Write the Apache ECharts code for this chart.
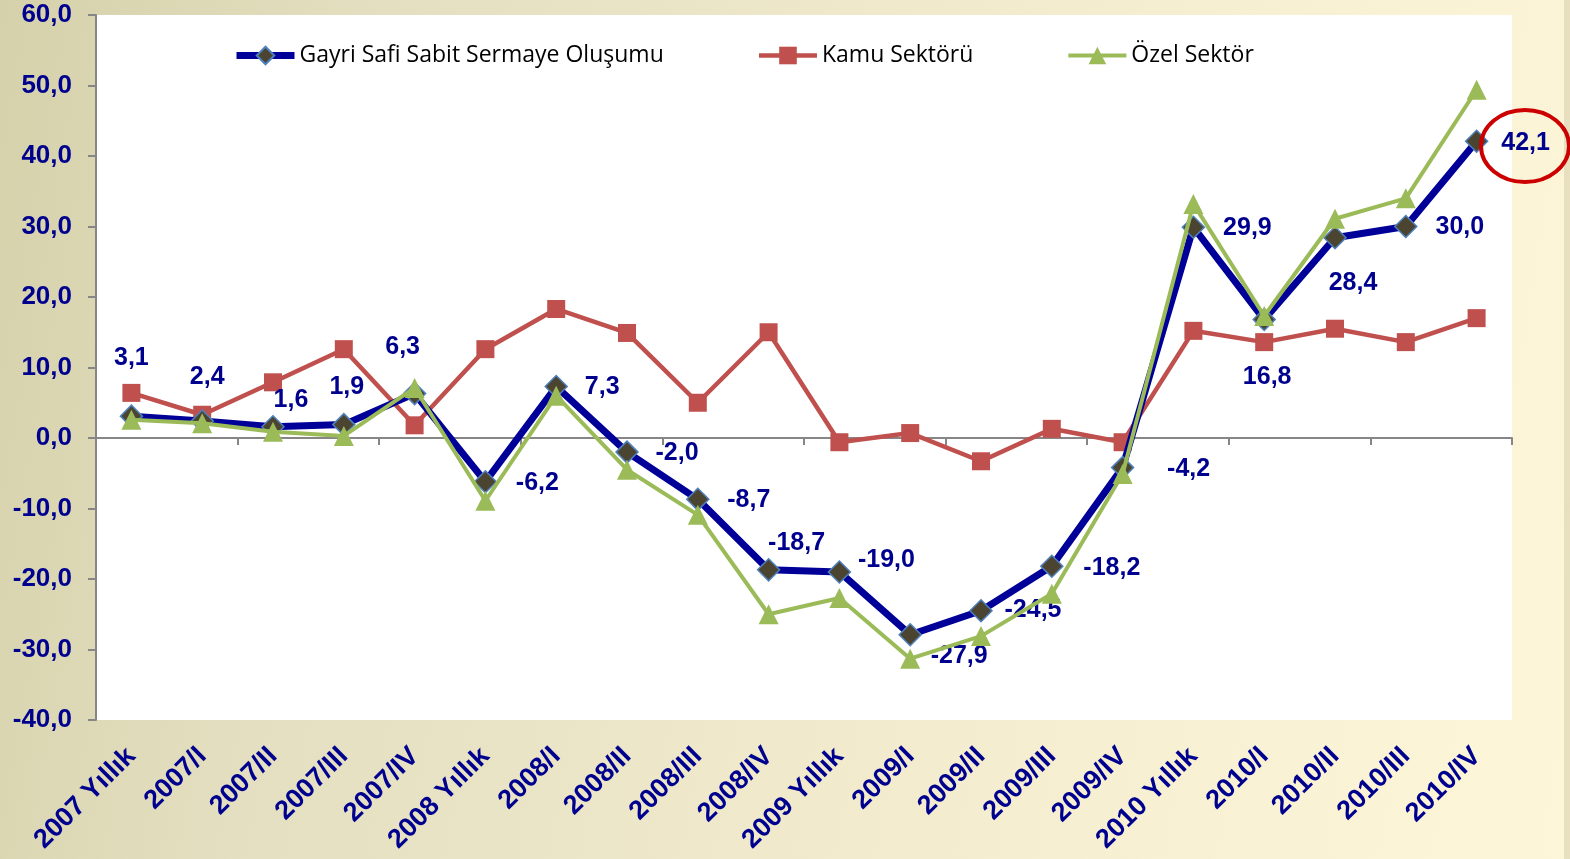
<!DOCTYPE html>
<html>
<head>
<meta charset="utf-8">
<script src="https://cdn.jsdelivr.net/npm/echarts@6/dist/echarts.min.js"></script>
<style>
  html, body {
    margin: 0;
    padding: 0;
    width: 1570px;
    height: 859px;
    overflow: hidden;
    background:
      linear-gradient(to right, rgba(0,0,0,0) 1564px, rgba(170,160,120,0.25) 1564px),
      linear-gradient(100deg, #d5d1aa 0%, #e4dfc0 22%, #efe8cb 50%, #f8f0d2 75%, #fdf6d8 100%);
  }
  #chart { width: 1570px; height: 859px; }
</style>
</head>
<body>
<div id="chart"></div>
<script>
// kategoriler
var categories = ['2007 Yıllık', '2007/I', '2007/II', '2007/III', '2007/IV',
  '2008 Yıllık', '2008/I', '2008/II', '2008/III', '2008/IV',
  '2009 Yıllık', '2009/I', '2009/II', '2009/III', '2009/IV',
  '2010 Yıllık', '2010/I', '2010/II', '2010/III', '2010/IV'];

// Gayri Safi Sabit Sermaye Oluşumu (değişim %)
var gssoValues = [3.1, 2.4, 1.6, 1.9, 6.3, -6.2, 7.3, -2.0, -8.7, -18.7,
  -19.0, -27.9, -24.5, -18.2, -4.2, 29.9, 16.8, 28.4, 30.0, 42.1];
// Kamu Sektörü
var kamuValues = [6.4, 3.3, 7.9, 12.6, 1.8, 12.6, 18.3, 14.9, 5.0, 15.0,
  -0.6, 0.7, -3.3, 1.3, -0.6, 15.2, 13.6, 15.5, 13.6, 17.0];
// Özel Sektör
var ozelValues = [2.6, 2.1, 0.9, 0.3, 7.1, -8.9, 6.0, -4.5, -10.9, -25.0,
  -22.7, -31.3, -28.1, -22.1, -5.1, 33.2, 17.3, 31.1, 34.0, 49.4];

// etiketlerin nokta etrafindaki kaymasi (px)
var labelOffsets = [[0, -58], [5, -44], [18, -27], [3, -37], [-12, -46],
  [52, 1], [46, 1], [50, 1], [51, 1], [28, -27],
  [47, -12], [49, 21], [52, -1], [60, 2], [66, 1],
  [54, 1], [3, 58], [18, 45], [54, 1], [49, 2]];

var navy = '#00008f';

function fmt(v) {
  return v.toFixed(1).replace('.', ',');
}

var chart = echarts.init(document.getElementById('chart'));

var option = {
  backgroundColor: 'transparent',
  animation: false,
  legend: {
    left: 228,
    top: 39,
    itemWidth: 58,
    itemHeight: 22,
    itemGap: 93,
    textStyle: {
      fontFamily: 'Open Sans',
      fontSize: 23,
      color: '#000'
    },
    data: [
      { name: 'Gayri Safi Sabit Sermaye Oluşumu', lineStyle: { width: 7 } },
      { name: 'Kamu Sektörü', lineStyle: { width: 4.5 } },
      { name: 'Özel Sektör', lineStyle: { width: 4 } }
    ]
  },
  grid: {
    left: 96,
    top: 15,
    width: 1416,
    height: 705,
    show: true,
    backgroundColor: '#ffffff',
    borderWidth: 0
  },
  xAxis: [
    {
      type: 'category',
      data: categories,
      position: 'bottom',
      axisLine: { show: false, onZero: false },
      axisTick: { show: false },
      axisLabel: {
        rotate: 45,
        interval: 0,
        margin: 32,
        color: navy,
        fontFamily: 'Liberation Sans',
        fontWeight: 'bold',
        fontSize: 27
      }
    },
    {
      type: 'category',
      data: categories,
      position: 'bottom',
      axisLine: { show: true, onZero: true, lineStyle: { color: '#868686', width: 2 } },
      axisTick: { show: true, length: 7, lineStyle: { color: '#868686', width: 2 } },
      axisLabel: { show: false }
    }
  ],
  yAxis: {
    type: 'value',
    min: -40,
    max: 60,
    interval: 10,
    splitLine: { show: false },
    axisLine: { show: true, lineStyle: { color: '#868686', width: 2 } },
    axisTick: { show: true, length: 8, lineStyle: { color: '#868686', width: 2 } },
    axisLabel: {
      margin: 24,
      color: navy,
      fontFamily: 'Liberation Sans',
      fontWeight: 'bold',
      fontSize: 26,
      formatter: function (v) { return fmt(v); }
    }
  },
  series: [
    {
      name: 'Gayri Safi Sabit Sermaye Oluşumu',
      type: 'line',
      xAxisIndex: 0,
      symbol: 'diamond',
      symbolSize: 22,
      lineStyle: { color: '#000099', width: 7 },
      itemStyle: { color: '#4a4430', borderColor: '#4f81bd', borderWidth: 1.5 },
      label: {
        show: true,
        position: 'inside',
        color: navy,
        fontFamily: 'Liberation Sans',
        fontWeight: 'bold',
        fontSize: 25,
        formatter: function (p) { return fmt(p.value); }
      },
      data: gssoValues.map(function (v, i) {
        return { value: v, label: { offset: labelOffsets[i] } };
      }),
      z: 3
    },
    {
      name: 'Kamu Sektörü',
      type: 'line',
      xAxisIndex: 0,
      symbol: 'rect',
      symbolSize: 18,
      lineStyle: { color: '#c0504d', width: 4.5 },
      itemStyle: { color: '#c0504d' },
      data: kamuValues,
      z: 2
    },
    {
      name: 'Özel Sektör',
      type: 'line',
      xAxisIndex: 0,
      symbol: 'triangle',
      symbolSize: 20,
      lineStyle: { color: '#9bbb59', width: 4 },
      itemStyle: { color: '#9bbb59' },
      data: ozelValues,
      z: 4
    }
  ],
  graphic: [
    {
      type: 'ellipse',
      shape: { cx: 1525, cy: 146, rx: 44, ry: 36 },
      style: { fill: 'none', stroke: '#cc0000', lineWidth: 4 },
      z: 10
    }
  ]
};

chart.setOption(option);
</script>
</body>
</html>
